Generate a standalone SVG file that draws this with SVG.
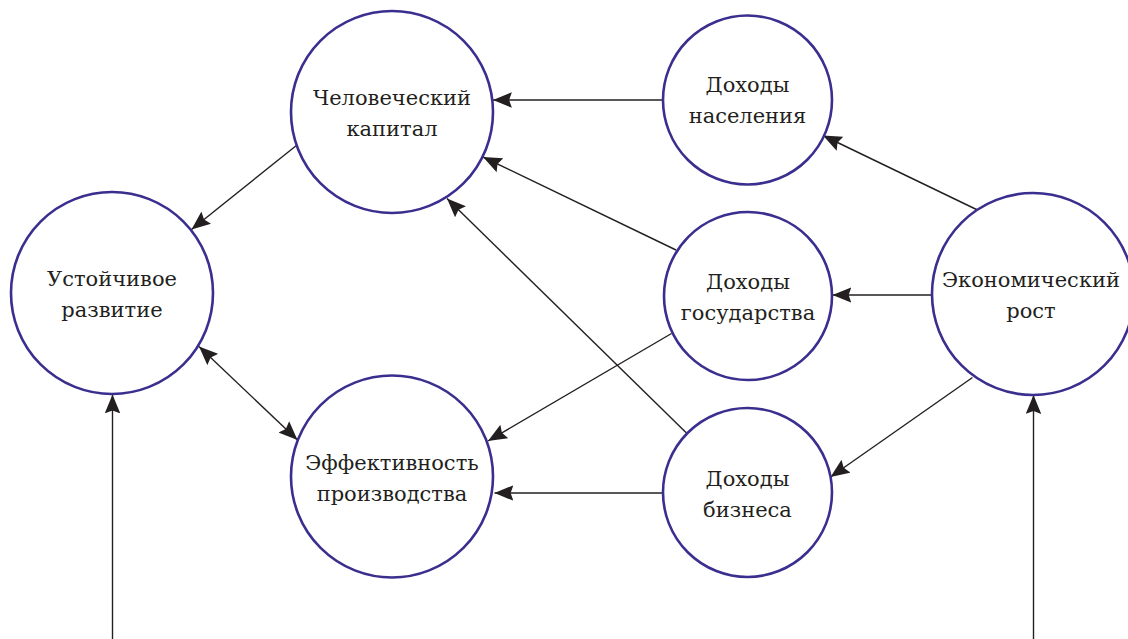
<svg xmlns="http://www.w3.org/2000/svg" width="1128" height="639" viewBox="0 0 1128 639">
<style>
.node circle{fill:#fff;stroke:#3a2f8f;stroke-width:2.6}
.node text{font-family:"DejaVu Serif","Liberation Serif",serif;font-size:21px;fill:#231f20;text-anchor:middle}
.edges line{stroke:#231f20;stroke-width:1.4;fill:none}
</style>
<defs>
<marker id="ah" markerUnits="userSpaceOnUse" markerWidth="20" markerHeight="16" viewBox="0 0 18 14" refX="17" refY="7" orient="auto-start-reverse">
<path d="M0,0 L17,7 L0,14 L2.5,7 z" fill="#231f20"/>
</marker>
</defs>
<rect width="1128" height="639" fill="#fff"/>
<g class="edges">
<line x1="663" y1="100" x2="493" y2="100" marker-end="url(#ah)"/>
<line x1="676" y1="250" x2="483" y2="157" marker-end="url(#ah)"/>
<line x1="686.5" y1="433" x2="447" y2="198.5" marker-end="url(#ah)"/>
<line x1="297" y1="145" x2="191.5" y2="229.5" marker-end="url(#ah)"/>
<line x1="199" y1="346.5" x2="297.5" y2="440" marker-start="url(#ah)" marker-end="url(#ah)"/>
<line x1="671.5" y1="333.5" x2="488" y2="441" marker-end="url(#ah)"/>
<line x1="663" y1="493" x2="494.5" y2="493" marker-end="url(#ah)"/>
<line x1="977.5" y1="210" x2="823" y2="135.5" marker-end="url(#ah)"/>
<line x1="932" y1="295" x2="832.5" y2="295" marker-end="url(#ah)"/>
<line x1="972.5" y1="377.5" x2="830.5" y2="477" marker-end="url(#ah)"/>
<line x1="112.5" y1="639" x2="112.5" y2="394.5" marker-end="url(#ah)"/>
<line x1="1033.5" y1="639" x2="1033.5" y2="395" marker-end="url(#ah)"/>
</g>
<g id="human-capital" class="node"><circle cx="392" cy="112" r="101"/><text x="392" y="105">Человеческий</text><text x="392" y="136">капитал</text></g>
<g id="population-income" class="node"><circle cx="747.5" cy="100" r="84.5"/><text x="747.5" y="92">Доходы</text><text x="747.5" y="123">населения</text></g>
<g id="sustainable-development" class="node"><circle cx="112" cy="293" r="101"/><text x="112" y="286">Устойчивое</text><text x="112" y="317">развитие</text></g>
<g id="state-income" class="node"><circle cx="748" cy="296" r="84"/><text x="748" y="289">Доходы</text><text x="748" y="320">государства</text></g>
<g id="economic-growth" class="node"><circle cx="1033" cy="294" r="101"/><text x="1031" y="287">Экономический</text><text x="1031" y="318">рост</text></g>
<g id="production-efficiency" class="node"><circle cx="392" cy="476.5" r="101"/><text x="392" y="470">Эффективность</text><text x="392" y="501">производства</text></g>
<g id="business-income" class="node"><circle cx="747.5" cy="492.5" r="84.5"/><text x="747.5" y="486">Доходы</text><text x="747.5" y="517">бизнеса</text></g>
</svg>
